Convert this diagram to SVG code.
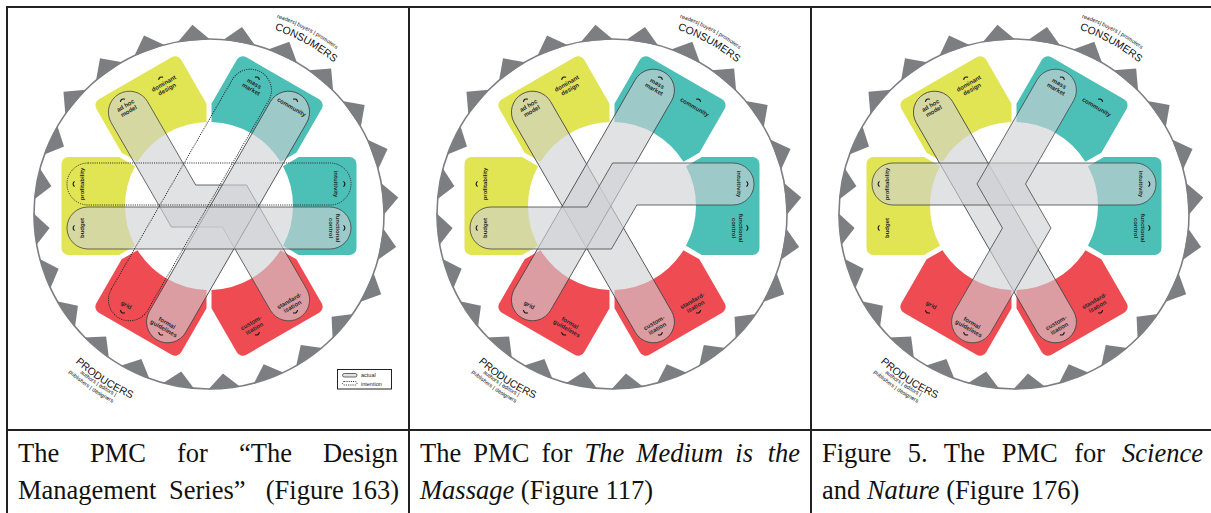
<svg xmlns="http://www.w3.org/2000/svg" width="1211" height="513" viewBox="0 0 1211 513">
<style>
.ring{fill:#fff;stroke:#7d7e82;stroke-width:1.6}
.tooth{fill:#7d7e82}
.yel{fill:#e1e453}
.tea{fill:#4cbfb6}
.red{fill:#ef4b52}
.band{fill:#cfd0d3;fill-opacity:.62;stroke:#444;stroke-width:.8}
.dot{fill:none;stroke:#222;stroke-width:.9;stroke-dasharray:1.1 1.1}
.lab{font-family:"Liberation Sans",Arial,sans-serif;font-size:6px;font-weight:bold;fill:#2a2a2a;text-anchor:middle}
.sym{fill:none;stroke:#111;stroke-width:1.1}
.big{font-family:"Liberation Sans",Arial,sans-serif;font-size:10.5px;fill:#111}
.sub{font-family:"Liberation Sans",Arial,sans-serif;font-size:5.5px;fill:#111}
.cap{font-family:"Liberation Serif","Times New Roman","DejaVu Serif",serif;font-size:26.5px;fill:#111}
.grid{fill:none;stroke:#222;stroke-width:2}
.leg{font-family:"Liberation Sans",Arial,sans-serif;font-size:5.5px;fill:#222}
</style>
<defs>
<path id="tab" d="M-42,-147.5 L42,-147.5 A7,7 0 0 1 49,-140.5 L49,-89.87 L39.8,-73.96 A84,84 0 0 0 -39.8,-73.96 L-49,-89.87 L-49,-140.5 A7,7 0 0 1 -42,-147.5 Z"/>
<polygon id="to" points="195,39.9 227,39.9 211,24"/>
<polygon id="ti" points="195,39.2 227,39.2 211,54"/>
<rect id="capsule" x="-142" y="-21" width="284" height="42" rx="21"/>
<path id="sy" d="M-2.6,1 Q0,-1.8 2.6,1"/>
<path id="pc" d="M274.5,29.6 A195,195 0 0 1 379.9,116.5"/>
<path id="pr" d="M276.7,17.7 A207,207 0 0 1 390.3,110.5"/>
<path id="pp" d="M75.2,362.2 A201,201 0 0 0 193.5,414.2"/>
<path id="pa" d="M80,372.9 A206,206 0 0 0 193,419.2"/>
<path id="pb" d="M68.5,372.3 A213,213 0 0 0 192.4,426.2"/>
<g id="base">
  <g transform="translate(-2,0)">
  <circle cx="211" cy="214" r="175" class="ring"/>
  <g class="tooth">
    <use href="#to" transform="rotate(-50 211 214)"/>
    <use href="#to" transform="rotate(-35 211 214)"/>
    <use href="#to" transform="rotate(-20 211 214)"/>
    <use href="#to" transform="rotate(-5 211 214)"/>
    <use href="#to" transform="rotate(10 211 214)"/>
    <use href="#to" transform="rotate(25 211 214)"/>
    <use href="#to" transform="rotate(40 211 214)"/>
    <use href="#to" transform="rotate(55 211 214)"/>
    <use href="#to" transform="rotate(70 211 214)"/>
    <use href="#to" transform="rotate(85 211 214)"/>
    <use href="#to" transform="rotate(100 211 214)"/>
    <use href="#to" transform="rotate(115 211 214)"/>
    <use href="#ti" transform="rotate(130 211 214)"/>
    <use href="#ti" transform="rotate(145 211 214)"/>
    <use href="#ti" transform="rotate(160 211 214)"/>
    <use href="#ti" transform="rotate(175 211 214)"/>
    <use href="#ti" transform="rotate(190 211 214)"/>
    <use href="#ti" transform="rotate(205 211 214)"/>
    <use href="#ti" transform="rotate(220 211 214)"/>
    <use href="#ti" transform="rotate(235 211 214)"/>
    <use href="#ti" transform="rotate(250 211 214)"/>
    <use href="#ti" transform="rotate(265 211 214)"/>
    <use href="#ti" transform="rotate(280 211 214)"/>
    <use href="#ti" transform="rotate(295 211 214)"/>
  </g>
  </g>
  <use href="#tab" class="yel" transform="translate(209,206) rotate(-90)"/>
  <use href="#tab" class="yel" transform="translate(209,206) rotate(-30)"/>
  <use href="#tab" class="tea" transform="translate(209,206) rotate(30)"/>
  <use href="#tab" class="tea" transform="translate(209,206) rotate(90)"/>
  <use href="#tab" class="red" transform="translate(209,206) rotate(150)"/>
  <use href="#tab" class="red" transform="translate(209,206) rotate(-150)"/>
  <text class="sub"><textPath href="#pr">readers| buyers | promoters</textPath></text>
  <text class="big"><textPath href="#pc">CONSUMERS</textPath></text>
  <text class="big"><textPath href="#pp">PRODUCERS</textPath></text>
  <text class="sub"><textPath href="#pa">authors | editors |</textPath></text>
  <text class="sub"><textPath href="#pb">publishers | designers</textPath></text>
</g>
<g id="labels">
  <g id="n-profitability"><text class="lab" transform="translate(82,184) rotate(-90)"><tspan x="0" y="2.1">profitability</tspan></text><use href="#sy" class="sym" transform="translate(73.5,184) rotate(-90)"/></g>
  <g id="n-budget"><text class="lab" transform="translate(82,228) rotate(-90)"><tspan x="0" y="2.1">budget</tspan></text><use href="#sy" class="sym" transform="translate(73.5,228) rotate(-90)"/></g>
  <g id="n-intuitivity"><text class="lab" transform="translate(336,184) rotate(90)"><tspan x="0" y="2.1">intuitivity</tspan></text><use href="#sy" class="sym" transform="translate(344.5,184) rotate(90)"/></g>
  <g id="n-functional"><text class="lab" transform="translate(334.5,228) rotate(90)"><tspan x="0" y="-1.2">functional</tspan><tspan x="0" y="5.3">control</tspan></text><use href="#sy" class="sym" transform="translate(344.5,228) rotate(90)"/></g>
  <g id="n-adhoc"><text class="lab" transform="translate(127.15,108.3) rotate(-30)"><tspan x="0" y="-1.2">ad hoc</tspan><tspan x="0" y="5.3">model</tspan></text><use href="#sy" class="sym" transform="translate(122.15,99.64) rotate(-30)"/></g>
  <g id="n-dominant"><text class="lab" transform="translate(165.35,86.3) rotate(-30)"><tspan x="0" y="-1.2">dominant</tspan><tspan x="0" y="5.3">design</tspan></text><use href="#sy" class="sym" transform="translate(160.35,77.64) rotate(-30)"/></g>
  <g id="n-mass"><text class="lab" transform="translate(252.65,86.3) rotate(30)"><tspan x="0" y="-1.2">mass</tspan><tspan x="0" y="5.3">market</tspan></text><use href="#sy" class="sym" transform="translate(257.65,77.64) rotate(30)"/></g>
  <g id="n-community"><text class="lab" transform="translate(291.6,107) rotate(30)"><tspan x="0" y="2.1">community</tspan></text><use href="#sy" class="sym" transform="translate(295.85,99.64) rotate(30)"/></g>
  <g id="n-custom"><text class="lab" transform="translate(252.65,325.7) rotate(-30)"><tspan x="0" y="-1.2">custom-</tspan><tspan x="0" y="5.3">isation</tspan></text><use href="#sy" class="sym" transform="translate(257.65,334.36) rotate(150)"/></g>
  <g id="n-standard"><text class="lab" transform="translate(290.85,303.7) rotate(-30)"><tspan x="0" y="-1.2">standard-</tspan><tspan x="0" y="5.3">isation</tspan></text><use href="#sy" class="sym" transform="translate(295.85,312.36) rotate(150)"/></g>
  <g id="n-grid"><text class="lab" transform="translate(126.4,305) rotate(30)"><tspan x="0" y="2.1">grid</tspan></text><use href="#sy" class="sym" transform="translate(122.15,312.36) rotate(-150)"/></g>
  <g id="n-formal"><text class="lab" transform="translate(165.35,325.7) rotate(30)"><tspan x="0" y="-1.2">formal</tspan><tspan x="0" y="5.3">guidelines</tspan></text><use href="#sy" class="sym" transform="translate(160.35,334.36) rotate(-150)"/></g>
</g>
</defs>
<rect width="1211" height="513" fill="#fff"/>
<g id="panel1">
  <use href="#base"/>
  <g id="connectors1">
    <path class="band" d="M147.59,101.7 L195.69,185 L246.57,185 L306.79,289.3 A21,21 0 0 1 270.41,310.3 L222.31,227 L171.43,227 L111.21,122.7 A21,21 0 0 1 147.59,101.7 Z"/>
    <use href="#capsule" class="band" transform="translate(228.05,217) rotate(-60)"/>
    <use href="#capsule" class="band" transform="translate(209,228)"/>
    <use href="#capsule" class="dot" transform="translate(189.95,195) rotate(-60)"/>
    <use href="#capsule" class="dot" transform="translate(209,184)"/>
  </g>
  <use href="#labels"/>
  <g id="legend">
    <rect x="337.5" y="369.5" width="54" height="19.5" fill="#fff" stroke="#222" stroke-width="1"/>
    <rect x="342.5" y="373.5" width="14.5" height="3.5" rx="1.75" class="band"/>
    <rect x="342.5" y="381.5" width="14.5" height="3.5" rx="1.75" class="dot"/>
    <text class="leg" x="361" y="377.2">actual</text>
    <text class="leg" x="361" y="385.5">intention</text>
  </g>
</g>
<g id="panel2" transform="translate(403,0)">
  <use href="#base"/>
  <g id="connectors2">
    <use href="#capsule" class="band" transform="translate(189.95,217) rotate(60)"/>
    <use href="#capsule" class="band" transform="translate(189.95,195) rotate(-60)"/>
    <path class="band" d="M88,207 L184.17,207 L209.57,163 L330,163 A21,21 0 0 1 330,205 L233.83,205 L208.42,249 L88,249 A21,21 0 0 1 88,207 Z"/>
  </g>
  <use href="#labels"/>
</g>
<g id="panel3" transform="translate(805,0)">
  <use href="#base"/>
  <g id="connectors3">
    <use href="#capsule" class="band" transform="translate(189.95,217) rotate(60)"/>
    <use href="#capsule" class="band" transform="translate(209,184)"/>
    <path class="band" d="M232.21,79.7 L172.02,183.95 L197.48,228.05 L149.41,311.3 A21,21 0 0 0 185.79,332.3 L245.98,228.05 L220.52,183.95 L268.59,100.7 A21,21 0 0 0 232.21,79.7 Z"/>
  </g>
  <use href="#labels"/>
</g>
<g id="captions">
  <text class="cap" y="462"><tspan x="18">The</tspan><tspan x="90">PMC</tspan><tspan x="177">for</tspan><tspan x="239">“The</tspan><tspan x="398" text-anchor="end">Design</tspan></text>
  <text class="cap" x="18" y="499" word-spacing="6">Management Series”</text>
  <text class="cap" x="399" y="499" text-anchor="end">(Figure 163)</text>
  <text class="cap" x="420" y="462" word-spacing="5.5">The PMC for <tspan font-style="italic">The Medium is</tspan></text>
  <text class="cap" x="800" y="462" text-anchor="end" font-style="italic">the</text>
  <text class="cap" x="420" y="499"><tspan font-style="italic">Massage</tspan> (Figure 117)</text>
  <text class="cap" x="822" y="462" word-spacing="10">Figure 5. The PMC for</text>
  <text class="cap" x="1203" y="462" text-anchor="end" font-style="italic">Science</text>
  <text class="cap" x="822" y="499">and <tspan font-style="italic">Nature</tspan> (Figure 176)</text>
</g>
<path class="grid" d="M6,7 H1211 M7,6 V513 M409,7 V513 M811,7 V513 M6,430 H1211"/>
</svg>
